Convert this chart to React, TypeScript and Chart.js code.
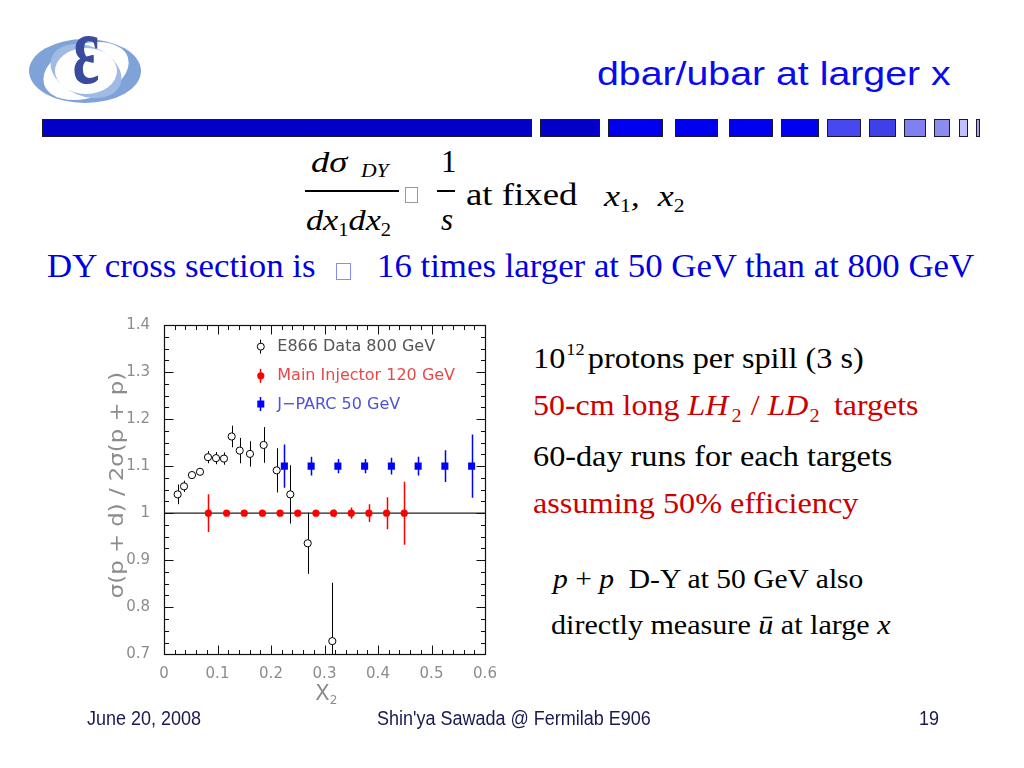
import React, { useEffect, useRef } from "react";
import { Chart, registerables } from "chart.js";
Chart.register(...registerables);

// ---------------- data ----------------
const e866X = [0.0255, 0.0374, 0.0523, 0.0673, 0.0822, 0.0972, 0.1121, 0.1265, 0.1415, 0.1607, 0.1863, 0.2106, 0.2361, 0.2686, 0.3146];
const e866Y = [1.040, 1.057, 1.081, 1.088, 1.119, 1.117, 1.116, 1.163, 1.133, 1.126, 1.145, 1.091, 1.040, 0.936, 0.728];
const e866Err = [0.021, 0.012, 0.006, 0.006, 0.013, 0.013, 0.013, 0.023, 0.027, 0.027, 0.038, 0.047, 0.062, 0.065, 0.124];

const miX = [0.083, 0.117, 0.150, 0.184, 0.217, 0.250, 0.284, 0.317, 0.350, 0.383, 0.416, 0.449];
const miY = [1, 1, 1, 1, 1, 1, 1, 1, 1, 1, 1, 1];
const miErr = [0.040, 0.004, 0.004, 0.004, 0.005, 0.006, 0.007, 0.008, 0.012, 0.019, 0.034, 0.067];

const jpX = [0.225, 0.275, 0.325, 0.375, 0.425, 0.475, 0.525, 0.575];
const jpY = [1.1, 1.1, 1.1, 1.1, 1.1, 1.1, 1.1, 1.1];
const jpErr = [0.046, 0.020, 0.015, 0.015, 0.018, 0.020, 0.034, 0.067];

const refLineX = [0, 0.6];
const refLineY = [1, 1];

const legendLabels = ["E866 Data 800 GeV", "Main Injector 120 GeV", "J\u2212PARC 50 GeV"];
const legendY = [1.354, 1.292, 1.232];
const legendX = 0.18;

const xMin = 0, xMax = 0.6, xStep = 0.1, xMinor = 0.02;
const yMin = 0.7, yMax = 1.4, yStep = 0.1, yMinor = 0.025;
const yTitle = "\u03c3(p + d) / 2\u03c3(p + p)";

// ---------------- helpers ----------------
const SERIF = '"Liberation Serif", "Times New Roman", serif';
const SANS = '"Liberation Sans", Arial, sans-serif';
const ROOTF = '"DejaVu Sans", sans-serif';
const GREY = "#8c8c8c";

const fmt = (v: number) => String(Math.round(v * 100) / 100);

function Txt(props: any) {
  const { x, y, size, sx = 1, color = "#000", family = SERIF, italic = false, children } = props;
  return (
    <div
      style={{
        position: "absolute",
        left: x,
        top: y - 0.84 * size,
        fontSize: size,
        lineHeight: `${size}px`,
        height: size,
        whiteSpace: "nowrap",
        color,
        fontFamily: family,
        fontStyle: italic ? "italic" : "normal",
        transform: `scaleX(${sx})`,
        transformOrigin: "left top",
      }}
    >
      {children}
    </div>
  );
}

const Sub = (p: any) => (
  <span style={{ fontSize: p.size, position: "relative", top: p.dy, lineHeight: 0, fontStyle: p.italic ? "italic" : "normal", marginLeft: p.ml || 0, marginRight: p.mr || 0 }}>
    {p.children}
  </span>
);

// ---------------- chart plugins ----------------
const errorBars = {
  id: "errorBars",
  beforeDatasetsDraw(chart: any) {
    const { ctx, chartArea: a, scales } = chart;
    const xs = scales.x, ys = scales.y;
    ctx.save();
    ctx.beginPath();
    ctx.rect(a.left, a.top, a.right - a.left, a.bottom - a.top);
    ctx.clip();
    chart.data.datasets.forEach((ds: any) => {
      if (!ds.errors) return;
      ctx.strokeStyle = ds.errColor;
      ctx.lineWidth = ds.errWidth;
      ds.data.forEach((p: any, i: number) => {
        const e = ds.errors[i];
        const px = Math.round(xs.getPixelForValue(p.x)) + 0.5;
        ctx.beginPath();
        ctx.moveTo(px, ys.getPixelForValue(p.y - e));
        ctx.lineTo(px, ys.getPixelForValue(p.y + e));
        ctx.stroke();
      });
    });
    ctx.restore();
  },
};

const frameTicks = {
  id: "frameTicks",
  afterDraw(chart: any) {
    const { ctx, chartArea: a, scales } = chart;
    const xs = scales.x, ys = scales.y;
    ctx.save();
    ctx.strokeStyle = "#111";
    ctx.lineWidth = 1;
    const L = Math.round(a.left) + 0.5, R = Math.round(a.right) + 0.5;
    const T = Math.round(a.top) + 0.5, B = Math.round(a.bottom) + 0.5;
    ctx.beginPath();
    const nx = Math.round((xMax - xMin) / xMinor);
    for (let i = 0; i <= nx; i++) {
      const v = xMin + i * xMinor;
      const major = i % Math.round(xStep / xMinor) === 0;
      const len = major ? 9 : 4.5;
      const px = Math.round(xs.getPixelForValue(v)) + 0.5;
      ctx.moveTo(px, B); ctx.lineTo(px, B - len);
      ctx.moveTo(px, T); ctx.lineTo(px, T + len);
    }
    const ny = Math.round((yMax - yMin) / yMinor);
    for (let i = 0; i <= ny; i++) {
      const v = yMin + i * yMinor;
      const major = i % Math.round(yStep / yMinor) === 0;
      const len = major ? 9 : 4.5;
      const py = Math.round(ys.getPixelForValue(v)) + 0.5;
      ctx.moveTo(L, py); ctx.lineTo(L + len, py);
      ctx.moveTo(R, py); ctx.lineTo(R - len, py);
    }
    ctx.stroke();
    ctx.lineWidth = 1.2;
    ctx.strokeRect(L, T, R - L, B - T);

    // legend
    const lx = xs.getPixelForValue(legendX);
    const colors = ["#555555", "#e84848", "#5050d8"];
    const markColors = ["#000", "#ff0000", "#0000ff"];
    ctx.font = `16px ${ROOTF}`;
    ctx.textBaseline = "middle";
    legendLabels.forEach((lab, i) => {
      const py = ys.getPixelForValue(legendY[i]);
      ctx.strokeStyle = markColors[i];
      ctx.lineWidth = i === 0 ? 1 : 1.5;
      ctx.beginPath();
      ctx.moveTo(Math.round(lx) + 0.5, py - 7);
      ctx.lineTo(Math.round(lx) + 0.5, py + 7);
      ctx.stroke();
      ctx.beginPath();
      if (i === 0) {
        ctx.arc(lx + 0.5, py, 3.5, 0, Math.PI * 2);
        ctx.fillStyle = "#fff"; ctx.fill();
        ctx.lineWidth = 1; ctx.stroke();
      } else if (i === 1) {
        ctx.arc(lx + 0.5, py, 3.6, 0, Math.PI * 2);
        ctx.fillStyle = "#ff0000"; ctx.fill();
      } else {
        ctx.fillStyle = "#0000ff";
        ctx.fillRect(lx - 3, py - 3.5, 7, 7);
      }
      ctx.fillStyle = colors[i];
      ctx.textAlign = "left";
      ctx.fillText(lab, lx + 17, py + 0.5);
    });

    // axis titles
    ctx.fillStyle = GREY;
    ctx.save();
    ctx.translate(a.left - 46, a.top + 160);
    ctx.rotate(-Math.PI / 2);
    ctx.scale(1.2, 1);
    ctx.font = `19px ${ROOTF}`;
    ctx.textAlign = "center";
    ctx.textBaseline = "middle";
    ctx.fillText(yTitle, 0, 0);
    ctx.restore();

    const cx = (a.left + a.right) / 2;
    ctx.font = `21px ${ROOTF}`;
    ctx.textAlign = "center";
    ctx.textBaseline = "alphabetic";
    ctx.fillText("X", cx - 2, a.bottom + 46);
    ctx.font = `12px ${ROOTF}`;
    ctx.fillText("2", cx + 9, a.bottom + 50);
    ctx.restore();
  },
};

function ChartBox() {
  const ref = useRef<HTMLCanvasElement>(null);
  useEffect(() => {
    const pts = (xs: number[], ys: number[]) => xs.map((x, i) => ({ x, y: ys[i] }));
    const tickFont = { family: ROOTF, size: 15 };
    const chart = new Chart(ref.current as HTMLCanvasElement, {
      type: "scatter",
      data: {
        datasets: [
          {
            label: legendLabels[2],
            data: pts(jpX, jpY),
            pointStyle: "rect",
            pointRadius: 5,
            backgroundColor: "#0000ff",
            borderColor: "#0000ff",
            borderWidth: 0,
            errors: jpErr,
            errColor: "#0000ff",
            errWidth: 1.5,
          } as any,
          {
            label: legendLabels[1],
            data: pts(miX, miY),
            pointStyle: "circle",
            pointRadius: 3.6,
            backgroundColor: "#ff0000",
            borderColor: "#ff0000",
            borderWidth: 0,
            errors: miErr,
            errColor: "#ff0000",
            errWidth: 1.5,
          } as any,
          {
            label: legendLabels[0],
            data: pts(e866X, e866Y),
            pointStyle: "circle",
            pointRadius: 3.6,
            backgroundColor: "#ffffff",
            borderColor: "#000000",
            borderWidth: 1,
            errors: e866Err,
            errColor: "#000000",
            errWidth: 1,
          } as any,
          {
            label: "ref",
            data: pts(refLineX, refLineY),
            showLine: true,
            borderColor: "#222",
            borderWidth: 1.2,
            pointRadius: 0,
          } as any,
        ],
      },
      options: {
        animation: false,
        responsive: false,
        events: [],
        layout: { padding: { left: 0, right: 15, top: 12.7, bottom: 25.7 } },
        plugins: { legend: { display: false }, tooltip: { enabled: false } },
        scales: {
          x: {
            type: "linear",
            min: xMin,
            max: xMax,
            afterFit: (s: any) => { s.height = 30; },
            grid: { display: false },
            border: { display: false },
            ticks: { stepSize: xStep, callback: (v: any) => fmt(Number(v)), color: GREY, font: tickFont, padding: 3, maxRotation: 0, autoSkip: false },
          },
          y: {
            type: "linear",
            min: yMin,
            max: yMax,
            afterFit: (s: any) => { s.width = 64; },
            grid: { display: false },
            border: { display: false },
            ticks: { stepSize: yStep, callback: (v: any) => fmt(Number(v)), color: GREY, font: tickFont, padding: 6, autoSkip: false },
          },
        },
      } as any,
      plugins: [errorBars, frameTicks],
    });
    return () => chart.destroy();
  }, []);
  return (
    <div style={{ position: "absolute", left: 100, top: 310, width: 400, height: 400 }}>
      <canvas ref={ref} width={400} height={400} style={{ width: 400, height: 400 }} />
    </div>
  );
}

// ---------------- slide ----------------
const barSegs: [number, number, string][] = [
  [42, 532, "#0000c8"],
  [540, 600, "#0000c8"],
  [608, 663, "#0000f0"],
  [675, 718, "#0000f0"],
  [729, 773, "#0000f0"],
  [781, 819, "#0000f0"],
  [827, 861, "#4848f0"],
  [869, 896, "#4040e8"],
  [904, 926, "#8080f0"],
  [934, 950, "#8c8cf0"],
  [959, 968, "#c0c0ff"],
  [976, 980, "#a8a8e8"],
];

function Logo() {
  return (
    <svg width={160} height={120} style={{ position: "absolute", left: 0, top: 0 }}>
      <ellipse cx={85} cy={71} rx={56} ry={32} fill="#7fa3d9" />
      <ellipse cx={86} cy={71} rx={44} ry={27} fill="#ffffff" transform="rotate(-18 86 71)" />
      <ellipse cx={86} cy={71} rx={37} ry={25} fill="#9fbbe4" transform="rotate(22 86 71)" />
      <ellipse cx={86} cy={71} rx={31} ry={23} fill="#ffffff" />
      <text x={86} y={88} textAnchor="middle" fontFamily={SERIF} fontSize={62} fontWeight="bold" fill="#3a4a9c" transform="translate(0 -58) scale(1 1.6)">
        ε
      </text>
    </svg>
  );
}

export default function App() {
  return (
    <div style={{ position: "absolute", left: 0, top: 0, width: 1024, height: 768, background: "#fff", overflow: "hidden" }}>
      <Logo />
      <Txt x={597} y={85} size={33} sx={1.19} color="#0a0aee" family={SANS}>dbar/ubar at larger x</Txt>

      {barSegs.map(([a, b, c], i) => (
        <div key={i} style={{ position: "absolute", left: a, top: 119, width: b - a, height: 18, background: c, border: "1px solid #1a1a2a", boxSizing: "border-box" }} />
      ))}

      {/* formula */}
      <Txt x={311} y={172} size={30} sx={1.22} italic>dσ</Txt>
      <Txt x={361} y={177} size={18} sx={1.2} italic>DY</Txt>
      <div style={{ position: "absolute", left: 305, top: 190, width: 94, height: 1.5, background: "#000" }} />
      <Txt x={306} y={230} size={30} sx={1.14} italic>
        dx<Sub size={18} dy={6}>1</Sub>dx<Sub size={18} dy={6}>2</Sub>
      </Txt>
      <div style={{ position: "absolute", left: 405, top: 187, width: 13, height: 16, border: "1px solid #9a9a9a", boxSizing: "border-box" }} />
      <Txt x={441} y={172} size={31}>1</Txt>
      <div style={{ position: "absolute", left: 437, top: 190, width: 18, height: 1.5, background: "#000" }} />
      <Txt x={441} y={230} size={31} italic>s</Txt>
      <Txt x={466} y={205} size={32} sx={1.15}>at fixed</Txt>
      <Txt x={604} y={206} size={30} sx={1.2} italic>
        x<Sub size={18} dy={6} italic={false}>1</Sub>,&nbsp; x<Sub size={18} dy={6} italic={false}>2</Sub>
      </Txt>

      {/* DY line */}
      <Txt x={47} y={278} size={33} sx={1.055} color="#0000e0">DY cross section is</Txt>
      <div style={{ position: "absolute", left: 336, top: 263, width: 15, height: 17, border: "1px solid #8888ff", boxSizing: "border-box" }} />
      <Txt x={377} y={278} size={33} sx={1.055} color="#0000e0">16 times larger at 50 GeV than at 800 GeV</Txt>

      <ChartBox />

      {/* right text */}
      <Txt x={533} y={368} size={30} sx={1.075}>
        10<Sub size={17} dy={-13} ml={1} mr={3}>12</Sub>protons per spill (3 s)
      </Txt>
      <Txt x={533} y={415} size={30} sx={1.065} color="#cc0000">
        50-cm long <i>LH</i><Sub size={19} dy={7} ml={3} mr={1}>2</Sub> / <i>LD</i><Sub size={19} dy={7} ml={1} mr={6}>2</Sub> targets
      </Txt>
      <Txt x={533} y={466} size={30} sx={1.075}>60-day runs for each targets</Txt>
      <Txt x={533} y={513} size={30} sx={1.075} color="#cc0000">assuming 50% efficiency</Txt>

      <Txt x={553} y={589} size={28} sx={1.055}>
        <i>p</i> + <i>p</i>&nbsp; D-Y at 50 GeV also
      </Txt>
      <Txt x={551} y={635} size={28} sx={1.075}>
        directly measure <i>u{"\u0304"}</i> at large <i>x</i>
      </Txt>

      {/* footer */}
      <Txt x={87} y={725} size={20} sx={0.9} color="#1a1a50" family={SANS}>June 20, 2008</Txt>
      <Txt x={377} y={725} size={20} sx={0.9} color="#1a1a50" family={SANS}>Shin'ya Sawada @ Fermilab E906</Txt>
      <Txt x={919} y={725} size={20} sx={0.9} color="#1a1a50" family={SANS}>19</Txt>
    </div>
  );
}
